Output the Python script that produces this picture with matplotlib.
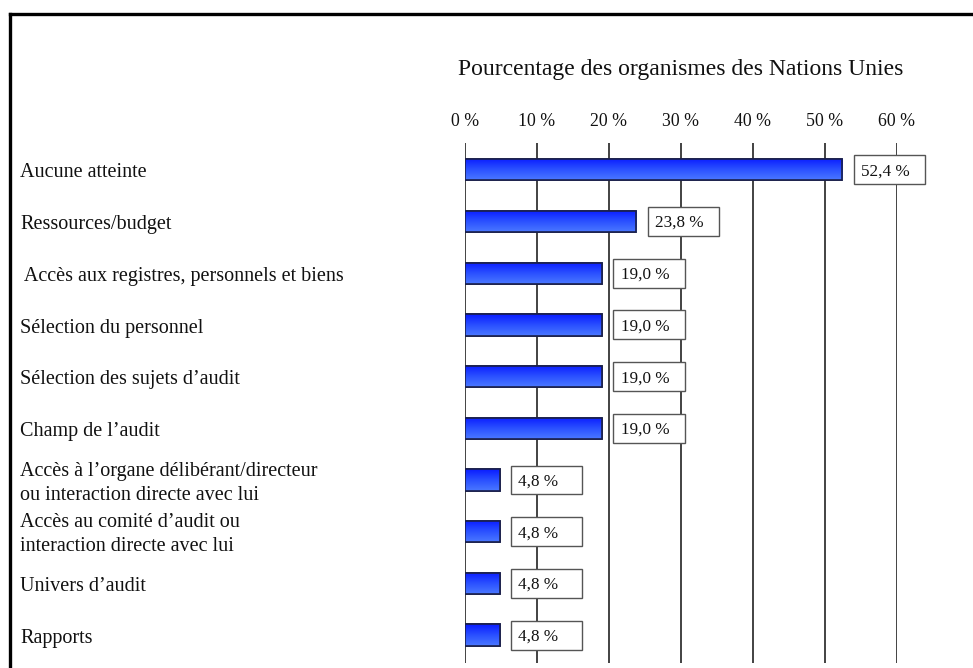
import numpy as np
import matplotlib
matplotlib.use("Agg")
import matplotlib.pyplot as plt
from matplotlib.colors import LinearSegmentedColormap
from matplotlib.patches import Rectangle
from matplotlib.lines import Line2D
import matplotlib.transforms as mtransforms

plt.rcParams['font.family'] = ['Liberation Serif', 'DejaVu Serif']

categories = [
    "Aucune atteinte",
    "Ressources/budget",
    " Accès aux registres, personnels et biens",
    "Sélection du personnel",
    "Sélection des sujets d\u2019audit",
    "Champ de l\u2019audit",
    "Accès à l\u2019organe délibérant/directeur\nou interaction directe avec lui",
    "Accès au comité d\u2019audit ou\ninteraction directe avec lui",
    "Univers d\u2019audit",
    "Rapports",
]
values = [52.4, 23.8, 19.0, 19.0, 19.0, 19.0, 4.8, 4.8, 4.8, 4.8]
value_labels = ["52,4 %", "23,8 %", "19,0 %", "19,0 %", "19,0 %", "19,0 %",
                "4,8 %", "4,8 %", "4,8 %", "4,8 %"]
ticks = [0, 10, 20, 30, 40, 50, 60]
tick_labels = ["0 %", "10 %", "20 %", "30 %", "40 %", "50 %", "60 %"]
title = "Pourcentage des organismes des Nations Unies"

W, H = 973, 668
fig = plt.figure(figsize=(W / 100, H / 100), dpi=100)
ax = fig.add_axes([465 / W, 5 / H, (897 - 465) / W, (663 - 143) / H])

y = np.arange(len(categories))

# grid lines
for t in ticks:
    ax.axvline(t, color="#222222", lw=1.2, zorder=1)

bars = ax.barh(y, values, height=0.41, color="#2050ff",
               edgecolor="#1a1f4a", linewidth=1.2, zorder=3)

cmap = LinearSegmentedColormap.from_list("bl", ["#0a1cff", "#2a50ff", "#4a78ff"])
grad = np.linspace(0, 1, 64).reshape(-1, 1)
for b in bars:
    x0, y0, w, h = b.get_x(), b.get_y(), b.get_width(), b.get_height()
    im = ax.imshow(grad, extent=[x0, x0 + w, y0 + h, y0], aspect="auto",
                   cmap=cmap, zorder=4, interpolation="bilinear")
    im.set_clip_path(b)
    ax.add_patch(Rectangle((x0, y0), w, h, fill=False, edgecolor="#1a1f4a",
                           lw=1.2, zorder=5))

# value boxes
for yi, v, lab in zip(y, values, value_labels):
    bx = v + 1.6
    ax.add_patch(Rectangle((bx, yi - 0.28), 9.9, 0.56, facecolor="white",
                           edgecolor="#555555", lw=1.0, zorder=6, clip_on=False))
    ax.text(bx + 1.0, yi + 0.03, lab, fontsize=12.3, va="center", ha="left",
            color="#111111", zorder=7, clip_on=False)

ax.set_xlim(0, 60)
ax.set_ylim(9.54, -0.52)
for s in ax.spines.values():
    s.set_visible(False)
ax.set_yticks([])
ax.xaxis.tick_top()
ax.set_xticks(ticks)
ax.set_xticklabels(tick_labels, fontsize=12.8, color="#111111")
ax.tick_params(axis="x", length=0, pad=9.5)

# category labels
trans = mtransforms.blended_transform_factory(fig.transFigure, ax.transData)
for yi, c in zip(y, categories):
    ax.text(20 / W, yi + 0.06, c, transform=trans, fontsize=14.5, va="center",
            ha="left", color="#111111", linespacing=1.35, clip_on=False)

fig.text(681 / W, 1 - 70 / H, title, fontsize=17, ha="center", va="center",
         color="#111111")

# frame
fig.add_artist(Line2D([10 / W, 1.0], [1 - 14 / H, 1 - 14 / H], color="black",
                      lw=2.4, transform=fig.transFigure))
fig.add_artist(Line2D([10 / W, 10 / W], [1 - 14 / H, 0], color="black",
                      lw=2.4, transform=fig.transFigure))

fig.savefig("out.png", dpi=100)
